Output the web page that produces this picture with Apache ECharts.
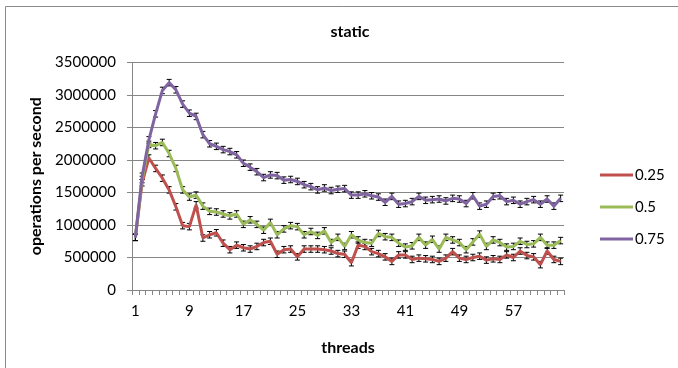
<!DOCTYPE html>
<html>
<head>
<meta charset="utf-8">
<script src="https://cdn.jsdelivr.net/npm/echarts@6/dist/echarts.min.js"></script>
<style>
html,body{margin:0;padding:0;background:#fff;}
#chart{width:678px;height:368px;}
</style>
</head>
<body>
<div id="chart"></div>
<script>
const threads = [];
for (let t = 1; t <= 64; t++) threads.push(String(t));

const seriesNames = ['0.25', '0.5', '0.75'];

const s025 = [810000,1650000,2030000,1870000,1720000,1540000,1280000,990000,975000,1310000,
800000,850000,880000,720000,620000,690000,650000,630000,670000,730000,
750000,550000,620000,630000,510000,630000,630000,630000,620000,600000,
560000,550000,420000,690000,670000,590000,560000,510000,440000,540000,
540000,470000,490000,480000,470000,440000,490000,590000,490000,470000,
500000,520000,460000,480000,470000,540000,500000,600000,530000,510000,
390000,600000,470000,440000];

const s05 = [810000,1700000,2240000,2220000,2270000,2100000,1870000,1540000,1430000,1460000,
1290000,1210000,1200000,1170000,1140000,1170000,1010000,1080000,1010000,920000,
1040000,850000,940000,990000,975000,850000,900000,840000,910000,730000,
810000,670000,850000,770000,730000,720000,870000,820000,810000,720000,
660000,680000,810000,690000,780000,630000,810000,770000,730000,620000,
740000,860000,670000,770000,730000,660000,670000,750000,700000,710000,
810000,690000,690000,760000];

const s075 = [810000,1750000,2310000,2710000,3070000,3190000,3080000,2860000,2720000,2670000,
2390000,2250000,2210000,2160000,2130000,2080000,1950000,1890000,1820000,1730000,
1770000,1760000,1690000,1700000,1670000,1620000,1590000,1540000,1570000,1530000,
1550000,1560000,1460000,1460000,1480000,1450000,1430000,1350000,1440000,1320000,
1330000,1360000,1440000,1380000,1390000,1400000,1370000,1410000,1400000,1330000,
1450000,1290000,1320000,1440000,1450000,1360000,1380000,1320000,1360000,1390000,
1320000,1400000,1290000,1410000];

const errorSize = 50000;

const colors = ['#C0504D', '#9BBB59', '#8064A2'];
const values = [s025, s05, s075];
const FONT = 'Lato, "Open Sans", sans-serif';

function errSeries(data) {
  return {
    type: 'custom',
    silent: true,
    z: 1,
    data: data.map((v, i) => [i, v]),
    renderItem: function (params, api) {
      const i = api.value(0), v = api.value(1);
      const top = api.coord([i, v + errorSize]);
      const bot = api.coord([i, v - errorSize]);
      const hw = 2.5;
      const st = { stroke: '#000', lineWidth: 1 };
      return {
        type: 'group',
        children: [
          { type: 'line', shape: { x1: top[0], y1: top[1], x2: bot[0], y2: bot[1] }, style: st },
          { type: 'line', shape: { x1: top[0] - hw, y1: top[1], x2: top[0] + hw, y2: top[1] }, style: st },
          { type: 'line', shape: { x1: bot[0] - hw, y1: bot[1], x2: bot[0] + hw, y2: bot[1] }, style: st }
        ]
      };
    }
  };
}

const series = [];
values.forEach((d, k) => {
  series.push(errSeries(d));
});
values.forEach((d, k) => {
  series.push({
    name: seriesNames[k],
    type: 'line',
    data: d,
    symbol: 'none',
    z: 3,
    lineStyle: { color: colors[k], width: 3 },
    itemStyle: { color: colors[k] }
  });
});

const chart = echarts.init(document.getElementById('chart'), null, { renderer: 'canvas' });
chart.setOption({
  animation: false,
  backgroundColor: '#fff',
  color: colors,
  graphic: [{
    type: 'rect',
    shape: { x: 5.5, y: 6.5, width: 700, height: 400 },
    style: { fill: 'none', stroke: '#8a8a8a', lineWidth: 1 },
    silent: true
  }],
  title: {
    text: 'static',
    left: 345, top: 19, textAlign: 'center',
    textStyle: { fontFamily: FONT, fontWeight: 'bold', fontSize: 16, color: '#000' }
  },
  legend: {
    data: seriesNames,
    orient: 'vertical',
    left: 595, top: 161,
    itemWidth: 33, itemHeight: 3,
    itemGap: 14,
    icon: 'rect',
    textStyle: { fontFamily: FONT, fontSize: 15, color: '#000', padding: [0, 0, 0, -3], lineHeight: 18 }
  },
  grid: { left: 132, right: 114, top: 62.5, bottom: 78, containLabel: false },
  xAxis: {
    type: 'category',
    data: threads,
    boundaryGap: true,
    name: 'threads',
    nameLocation: 'middle',
    nameGap: 50,
    nameTextStyle: { fontFamily: FONT, fontWeight: 'bold', fontSize: 16, color: '#000' },
    axisLine: { lineStyle: { color: '#868686' } },
    axisTick: { show: true, interval: 0, length: 5, lineStyle: { color: '#868686' } },
    axisLabel: { interval: 7, margin: 14, fontFamily: FONT, fontSize: 15, color: '#000' },
    splitLine: { show: false }
  },
  yAxis: {
    type: 'value',
    min: 0, max: 3500000, interval: 500000,
    name: 'operations per second',
    nameLocation: 'middle',
    nameGap: 85,
    nameRotate: 90,
    nameTextStyle: { fontFamily: FONT, fontWeight: 'bold', fontSize: 16, color: '#000' },
    axisLine: { show: true, lineStyle: { color: '#868686' } },
    axisTick: { show: true, length: 5, lineStyle: { color: '#868686' } },
    axisLabel: { margin: 16, fontFamily: FONT, fontSize: 15, color: '#000', formatter: function (v) { return String(v); } },
    splitLine: { lineStyle: { color: '#868686', width: 1 } }
  },
  series: series
});
</script>
</body>
</html>
